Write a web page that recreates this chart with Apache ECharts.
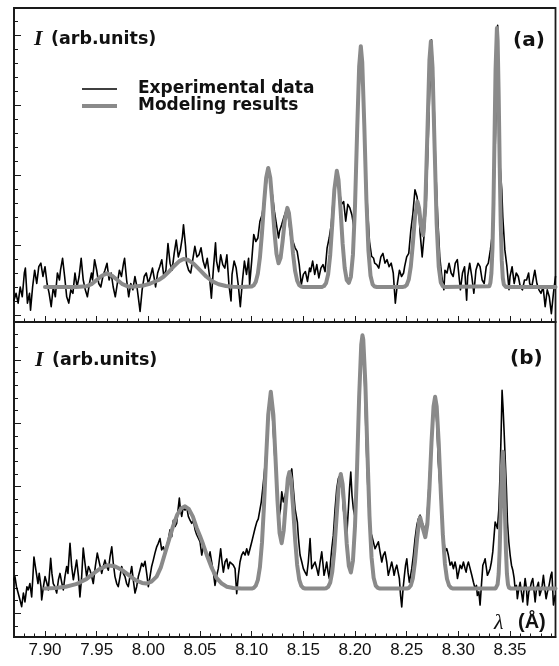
<!DOCTYPE html>
<html><head><meta charset="utf-8">
<script src="https://cdn.jsdelivr.net/npm/echarts@6/dist/echarts.min.js"></script>
<style>html,body{margin:0;padding:0;background:#fff}#c{width:559px;height:666px}</style>
</head><body><div id="c"></div>
<script>
// wavelength range (Å) and tick labels
const xMin = 7.87, xMax = 8.394;
const xTickLabels = ['7.90','7.95','8.00','8.05','8.10','8.15','8.20','8.25','8.30','8.35'];
const seriesNames = ['Experimental data', 'Modeling results'];

// panel (a): experimental data [λ, I]
const expA = [[7.870,2.1],[7.872,3.1],[7.874,1.7],[7.876,4.0],[7.878,2.6],[7.880,6.0],[7.881,6.7],[7.883,1.7],[7.885,3.1],[7.886,0.7],[7.888,4.0],[7.890,6.4],[7.892,4.5],[7.894,6.9],[7.896,7.4],[7.898,5.5],[7.900,6.9],[7.902,4.5],[7.904,3.1],[7.906,1.2],[7.908,4.0],[7.910,2.6],[7.912,6.0],[7.914,5.0],[7.915,6.4],[7.917,8.1],[7.919,5.5],[7.921,2.6],[7.923,1.7],[7.925,3.6],[7.927,3.1],[7.929,6.0],[7.931,4.0],[7.933,5.5],[7.935,8.1],[7.937,5.0],[7.939,3.6],[7.941,2.6],[7.943,4.5],[7.945,6.0],[7.946,5.0],[7.948,7.9],[7.950,6.4],[7.952,4.5],[7.954,4.0],[7.956,5.5],[7.958,6.4],[7.960,7.4],[7.962,5.0],[7.964,6.0],[7.966,4.0],[7.968,2.6],[7.970,4.5],[7.972,6.4],[7.974,5.5],[7.976,7.4],[7.977,8.1],[7.979,5.0],[7.981,2.6],[7.983,4.5],[7.985,3.6],[7.987,5.5],[7.989,4.0],[7.991,1.7],[7.992,0.5],[7.994,3.6],[7.996,5.5],[7.998,6.0],[8.000,4.5],[8.002,5.5],[8.004,6.7],[8.006,5.0],[8.007,4.0],[8.009,6.0],[8.011,6.9],[8.013,7.9],[8.015,5.5],[8.017,6.4],[8.019,10.2],[8.021,7.4],[8.023,6.4],[8.025,8.8],[8.027,10.7],[8.029,8.3],[8.031,9.3],[8.033,11.2],[8.034,12.9],[8.036,9.8],[8.037,7.4],[8.039,6.4],[8.041,6.0],[8.043,7.9],[8.045,9.8],[8.047,8.3],[8.049,8.6],[8.051,9.6],[8.053,7.7],[8.055,6.7],[8.057,8.1],[8.059,5.8],[8.061,2.4],[8.063,6.7],[8.065,10.3],[8.066,7.7],[8.068,6.2],[8.070,8.6],[8.072,7.2],[8.074,6.7],[8.076,8.6],[8.078,4.3],[8.080,2.0],[8.081,5.8],[8.083,7.7],[8.085,6.7],[8.087,4.3],[8.089,1.2],[8.091,4.8],[8.093,7.7],[8.095,5.8],[8.097,8.1],[8.098,4.3],[8.100,7.7],[8.102,11.5],[8.104,10.5],[8.106,11.0],[8.108,13.4],[8.110,14.3],[8.112,16.2],[8.114,18.6],[8.116,21.0],[8.118,19.6],[8.120,17.2],[8.122,14.8],[8.124,12.9],[8.126,11.0],[8.127,12.0],[8.129,12.9],[8.131,13.9],[8.133,14.8],[8.135,15.3],[8.136,13.4],[8.138,11.0],[8.140,10.5],[8.142,9.6],[8.144,9.1],[8.146,7.2],[8.148,4.3],[8.150,5.8],[8.152,6.2],[8.154,4.8],[8.156,6.7],[8.157,6.2],[8.159,7.7],[8.161,5.8],[8.163,7.2],[8.165,5.3],[8.167,6.7],[8.169,7.2],[8.171,6.2],[8.173,9.6],[8.175,11.0],[8.177,12.9],[8.179,16.7],[8.181,19.1],[8.182,20.5],[8.184,18.6],[8.186,16.7],[8.187,15.8],[8.189,16.2],[8.191,13.4],[8.193,15.8],[8.195,15.3],[8.197,14.3],[8.199,12.4],[8.201,21.0],[8.203,29.6],[8.206,38.4],[8.208,32.0],[8.210,22.4],[8.212,15.3],[8.214,10.5],[8.216,8.4],[8.218,8.1],[8.219,7.4],[8.221,7.2],[8.223,6.7],[8.225,8.3],[8.227,8.8],[8.229,7.4],[8.231,7.9],[8.233,6.9],[8.235,7.4],[8.237,6.0],[8.239,1.7],[8.241,4.5],[8.243,6.4],[8.245,5.5],[8.247,6.0],[8.248,6.9],[8.250,8.3],[8.252,8.8],[8.254,12.1],[8.256,14.5],[8.258,17.9],[8.260,16.9],[8.262,14.5],[8.263,11.7],[8.265,8.3],[8.267,11.7],[8.269,16.4],[8.271,26.0],[8.273,35.5],[8.274,39.3],[8.276,33.1],[8.278,21.2],[8.280,14.0],[8.282,8.3],[8.284,5.5],[8.286,3.6],[8.287,6.4],[8.289,6.0],[8.291,7.4],[8.293,6.0],[8.295,5.5],[8.297,7.4],[8.299,7.9],[8.301,5.0],[8.302,3.6],[8.304,6.0],[8.306,6.9],[8.308,2.1],[8.309,5.5],[8.311,7.4],[8.313,5.5],[8.315,3.1],[8.317,6.4],[8.319,7.4],[8.321,6.9],[8.323,5.0],[8.325,4.5],[8.327,6.9],[8.329,7.4],[8.331,9.3],[8.333,11.7],[8.334,15.5],[8.336,26.0],[8.337,35.5],[8.338,41.4],[8.339,33.1],[8.340,22.1],[8.342,17.9],[8.343,14.0],[8.345,9.3],[8.347,6.9],[8.349,3.6],[8.350,5.5],[8.352,6.9],[8.354,4.5],[8.356,6.0],[8.358,5.5],[8.360,4.0],[8.362,3.6],[8.364,5.0],[8.366,5.0],[8.368,6.0],[8.369,4.5],[8.371,4.0],[8.374,6.4],[8.376,4.5],[8.378,3.6],[8.380,3.1],[8.382,4.0],[8.384,1.2],[8.386,3.6],[8.388,2.6],[8.390,0.2],[8.392,3.1],[8.394,5.5]];

// panel (a): modeling results [λ, I]
const modA = [[7.900,4.0],[7.930,4.0],[7.940,4.1],[7.945,4.4],[7.950,5.0],[7.955,5.6],[7.960,5.95],[7.965,5.6],[7.970,5.0],[7.975,4.4],[7.980,4.1],[7.985,4.05],[7.995,4.2],[8.002,4.5],[8.010,5.0],[8.015,5.5],[8.020,6.2],[8.025,7.0],[8.030,7.7],[8.034,8.0],[8.038,7.9],[8.044,7.3],[8.050,6.4],[8.056,5.5],[8.062,4.8],[8.068,4.4],[8.075,4.15],[8.082,4.05],[8.090,4.0],[8.100,4.07],[8.102,4.24],[8.104,4.75],[8.106,5.94],[8.108,8.24],[8.110,11.78],[8.112,16.0],[8.114,19.6],[8.116,21.0],[8.118,19.6],[8.120,16.0],[8.122,11.9],[8.124,8.74],[8.126,7.4],[8.128,8.16],[8.130,10.6],[8.132,13.5],[8.1345,15.3],[8.136,14.6],[8.138,12.0],[8.140,8.8],[8.142,6.3],[8.144,4.9],[8.146,4.27],[8.148,4.06],[8.150,4.0],[8.168,4.0],[8.170,4.14],[8.172,4.56],[8.174,5.83],[8.176,8.61],[8.178,13.06],[8.180,17.9],[8.1824,20.6],[8.184,19.3],[8.186,15.07],[8.188,10.23],[8.190,6.74],[8.192,4.99],[8.194,4.58],[8.196,5.46],[8.198,8.65],[8.200,15.6],[8.202,26.0],[8.204,35.5],[8.2056,38.4],[8.207,36.1],[8.209,27.0],[8.211,16.5],[8.213,9.17],[8.215,5.61],[8.217,4.38],[8.219,4.07],[8.221,4.0],[8.246,4.01],[8.248,4.06],[8.250,4.29],[8.252,5.06],[8.254,6.95],[8.256,10.24],[8.258,13.99],[8.2604,16.2],[8.262,15.3],[8.264,12.56],[8.266,11.41],[8.268,15.6],[8.270,25.8],[8.272,36.4],[8.2734,39.1],[8.275,35.4],[8.277,24.0],[8.279,13.05],[8.281,6.89],[8.283,4.65],[8.285,4.1],[8.287,4.0],[8.330,4.1],[8.331,4.6],[8.332,6.0],[8.333,9.5],[8.334,16.0],[8.335,25.4],[8.336,35.1],[8.3373,41.0],[8.338,39.2],[8.339,31.5],[8.340,21.4],[8.341,13.0],[8.342,7.8],[8.343,5.3],[8.344,4.36],[8.345,4.08],[8.346,4.0],[8.394,4.0]];

// panel (b): experimental data [λ, I]
const expB = [[7.8700,5.3],[7.8709,5.8],[7.8724,4.2],[7.8741,4.2],[7.8758,2.1],[7.8774,1.05],[7.8791,3.2],[7.8806,1.8],[7.8825,4.2],[7.8838,3.7],[7.8854,4.7],[7.8871,2.6],[7.8883,5.8],[7.8893,8.9],[7.8912,6.8],[7.8932,4.7],[7.8944,6.3],[7.8961,4.2],[7.8968,2.1],[7.8985,4.2],[7.9000,5.8],[7.9019,4.7],[7.9032,3.7],[7.9055,8.7],[7.9067,6.3],[7.9080,4.7],[7.9096,4.2],[7.9113,3.2],[7.9130,5.3],[7.9145,6.3],[7.9164,4.7],[7.9177,3.7],[7.9193,5.8],[7.9210,7.4],[7.9222,6.3],[7.9242,11.05],[7.9258,7.4],[7.9274,5.3],[7.9290,6.8],[7.9306,8.4],[7.9324,5.8],[7.9338,2.6],[7.9355,5.8],[7.9370,10.3],[7.9387,7.9],[7.9403,5.8],[7.9421,7.4],[7.9436,6.8],[7.9452,5.8],[7.9467,4.7],[7.9487,7.4],[7.9506,9.5],[7.9527,7.9],[7.9549,6.3],[7.9564,7.4],[7.9580,8.4],[7.9597,7.4],[7.9613,6.8],[7.9629,8.9],[7.9646,10.5],[7.9661,7.9],[7.9677,5.8],[7.9694,4.7],[7.9709,4.2],[7.9726,5.8],[7.9742,7.4],[7.9758,6.3],[7.9774,5.8],[7.9790,4.7],[7.9806,4.2],[7.9822,5.8],[7.9839,7.4],[7.9854,5.3],[7.9871,3.2],[7.9887,4.2],[7.9903,5.8],[7.9919,6.8],[7.9936,7.9],[7.9951,7.4],[7.9968,8.2],[7.9984,6.3],[8.0000,4.2],[8.0016,5.8],[8.0032,7.4],[8.0048,8.4],[8.0064,9.5],[8.0081,10.5],[8.0096,11.05],[8.0113,11.8],[8.0129,10.0],[8.0145,10.5],[8.0161,9.7],[8.0177,9.5],[8.0193,11.6],[8.0210,13.2],[8.0226,12.1],[8.0242,14.7],[8.0258,13.7],[8.0274,14.2],[8.0287,16.3],[8.0300,18.2],[8.0311,16.3],[8.0323,15.3],[8.0338,16.8],[8.0355,16.3],[8.0371,16.8],[8.0387,15.3],[8.0403,14.7],[8.0420,14.2],[8.0435,14.7],[8.0452,13.2],[8.0468,12.4],[8.0484,12.3],[8.0500,11.3],[8.0517,9.2],[8.0532,10.7],[8.0548,10.2],[8.0565,9.2],[8.0580,8.6],[8.0597,9.7],[8.0613,8.1],[8.0629,6.5],[8.0645,4.4],[8.0662,6.0],[8.0677,7.05],[8.0700,10.2],[8.0713,8.1],[8.0726,6.5],[8.0742,8.1],[8.0759,8.6],[8.0774,7.05],[8.0790,8.1],[8.0807,8.1],[8.0822,7.6],[8.0839,7.05],[8.0855,3.1],[8.0871,6.0],[8.0887,8.1],[8.0903,9.2],[8.0919,9.7],[8.0936,9.2],[8.0952,10.2],[8.0968,9.2],[8.0984,10.2],[8.1001,11.3],[8.1016,12.3],[8.1032,13.4],[8.1049,14.4],[8.1064,14.9],[8.1081,16.5],[8.1093,17.6],[8.1107,19.7],[8.1120,21.8],[8.1132,23.9],[8.1146,27.1],[8.1158,30.2],[8.1171,32.3],[8.1185,33.4],[8.1197,32.3],[8.1210,28.6],[8.1223,24.9],[8.1243,20.7],[8.1255,17.6],[8.1268,15.5],[8.1279,16.5],[8.1291,19.2],[8.1306,17.6],[8.1323,18.6],[8.1339,19.7],[8.1355,21.3],[8.1371,21.8],[8.1388,22.8],[8.1403,19.7],[8.1420,16.5],[8.1442,14.4],[8.1453,11.8],[8.1468,9.2],[8.1485,8.1],[8.1500,7.05],[8.1516,6.5],[8.1533,6.0],[8.1548,8.1],[8.1565,11.8],[8.1581,7.05],[8.1597,7.6],[8.1613,8.1],[8.1630,7.05],[8.1645,6.0],[8.1662,8.1],[8.1678,9.7],[8.1691,7.6],[8.1700,6.0],[8.1715,7.05],[8.1726,8.1],[8.1739,6.5],[8.1751,5.5],[8.1763,8.1],[8.1775,10.2],[8.1790,12.3],[8.1807,16.5],[8.1823,19.7],[8.1839,21.3],[8.1856,21.8],[8.1872,20.7],[8.1887,16.5],[8.1904,14.4],[8.1920,12.3],[8.1936,16.5],[8.1947,19.7],[8.1959,22.3],[8.1971,18.6],[8.1984,16.5],[8.1996,15.5],[8.2010,19.7],[8.2025,26.0],[8.2040,32.8],[8.2054,39.7],[8.2068,43.4],[8.2081,41.8],[8.2095,35.5],[8.2107,27.6],[8.2122,20.7],[8.2136,15.5],[8.2151,12.8],[8.2162,12.3],[8.2178,12.3],[8.2194,10.2],[8.2211,10.2],[8.2226,11.3],[8.2242,9.7],[8.2259,8.1],[8.2274,9.2],[8.2290,9.7],[8.2307,8.1],[8.2322,6.0],[8.2339,7.05],[8.2355,8.1],[8.2368,7.05],[8.2378,6.0],[8.2392,7.05],[8.2404,7.6],[8.2417,6.5],[8.2429,5.5],[8.2441,2.8],[8.2452,1.0],[8.2465,3.9],[8.2478,6.0],[8.2489,7.6],[8.2501,8.6],[8.2513,6.5],[8.2526,4.9],[8.2538,6.0],[8.2549,7.05],[8.2565,9.2],[8.2581,11.8],[8.2598,13.9],[8.2613,14.9],[8.2630,15.5],[8.2646,14.4],[8.2661,13.9],[8.2678,12.8],[8.2695,14.4],[8.2710,18.6],[8.2726,23.4],[8.2743,27.6],[8.2758,31.8],[8.2774,33.9],[8.2791,30.2],[8.2806,23.9],[8.2823,19.7],[8.2839,15.5],[8.2855,12.3],[8.2871,9.7],[8.2888,10.2],[8.2903,9.2],[8.2920,7.6],[8.2936,8.1],[8.2952,7.05],[8.2968,8.1],[8.2981,7.05],[8.2991,5.5],[8.3004,6.5],[8.3017,7.6],[8.3033,7.05],[8.3049,8.1],[8.3065,7.05],[8.3075,6.5],[8.3087,7.6],[8.3097,8.1],[8.3114,7.05],[8.3130,6.0],[8.3146,4.9],[8.3162,3.9],[8.3175,4.4],[8.3184,2.8],[8.3198,3.4],[8.3210,1.3],[8.3223,4.4],[8.3237,7.6],[8.3249,8.1],[8.3259,8.6],[8.3272,7.05],[8.3281,6.0],[8.3295,6.5],[8.3307,7.05],[8.3320,8.1],[8.3333,9.7],[8.3346,12.3],[8.3356,14.4],[8.3368,13.9],[8.3378,13.4],[8.3392,16.5],[8.3404,22.3],[8.3414,28.6],[8.3423,35.2],[8.3433,32.3],[8.3443,28.6],[8.3452,24.9],[8.3465,19.7],[8.3475,14.4],[8.3488,11.3],[8.3501,9.2],[8.3514,7.6],[8.3527,6.8],[8.3540,5.5],[8.3549,3.9],[8.3562,4.4],[8.3571,2.3],[8.3585,3.9],[8.3598,4.9],[8.3610,3.4],[8.3624,1.8],[8.3636,3.9],[8.3646,5.5],[8.3659,3.9],[8.3668,1.3],[8.3682,3.4],[8.3694,3.9],[8.3707,4.9],[8.3720,5.5],[8.3733,3.4],[8.3743,1.8],[8.3756,3.9],[8.3775,4.9],[8.3787,2.8],[8.3798,3.4],[8.3811,4.4],[8.3823,6.0],[8.3837,3.9],[8.3849,2.3],[8.3862,3.4],[8.3872,3.9],[8.3883,4.9],[8.3895,6.0],[8.3905,6.5],[8.3920,1.3],[8.3936,2.8]];

// panel (b): modeling results [λ, I]
const modB = [[7.900,3.9],[7.910,4.0],[7.920,4.2],[7.930,4.6],[7.940,5.4],[7.947,6.3],[7.953,7.0],[7.961,7.6],[7.968,7.4],[7.975,6.8],[7.982,5.9],[7.988,5.2],[7.994,4.8],[7.998,4.7],[8.003,5.0],[8.008,5.8],[8.012,7.2],[8.016,9.4],[8.020,11.6],[8.024,13.8],[8.028,15.6],[8.032,16.6],[8.0355,16.9],[8.039,16.5],[8.043,15.3],[8.047,13.4],[8.050,12.2],[8.053,10.9],[8.057,9.0],[8.061,7.3],[8.066,5.6],[8.071,4.7],[8.076,4.2],[8.082,4.0],[8.090,3.9],[8.100,3.9],[8.102,4.03],[8.104,4.36],[8.106,5.27],[8.108,7.33],[8.110,11.23],[8.112,17.26],[8.114,24.6],[8.116,31.3],[8.1185,35.0],[8.121,31.3],[8.123,24.7],[8.125,17.7],[8.127,12.66],[8.129,11.07],[8.131,13.08],[8.133,17.4],[8.135,21.3],[8.1365,22.3],[8.138,21.2],[8.140,16.9],[8.142,11.7],[8.144,7.64],[8.146,5.33],[8.148,4.33],[8.150,4.0],[8.152,3.9],[8.170,3.9],[8.172,3.96],[8.174,4.17],[8.176,4.85],[8.178,6.59],[8.180,9.99],[8.182,14.88],[8.184,19.68],[8.1862,22.0],[8.188,20.4],[8.190,15.93],[8.192,10.95],[8.194,7.49],[8.196,6.44],[8.198,8.3],[8.200,13.82],[8.202,23.15],[8.204,34.2],[8.206,42.4],[8.2072,43.9],[8.208,43.2],[8.210,36.3],[8.212,25.35],[8.214,15.36],[8.216,8.83],[8.218,5.61],[8.220,4.38],[8.222,4.01],[8.224,3.9],[8.250,3.9],[8.252,4.0],[8.254,4.38],[8.256,5.56],[8.258,8.1],[8.260,11.7],[8.262,14.6],[8.263,15.16],[8.264,14.97],[8.266,13.2],[8.268,12.02],[8.270,14.04],[8.272,19.65],[8.274,26.96],[8.276,32.7],[8.2775,34.2],[8.279,32.7],[8.281,26.86],[8.283,19.17],[8.285,12.38],[8.287,7.83],[8.289,5.42],[8.291,4.39],[8.293,4.03],[8.295,3.9],[8.336,3.92],[8.337,4.05],[8.338,4.58],[8.339,6.25],[8.340,10.11],[8.341,16.31],[8.342,22.7],[8.343,25.5],[8.344,22.7],[8.345,16.31],[8.346,10.11],[8.347,6.25],[8.348,4.58],[8.349,4.05],[8.350,3.92],[8.351,3.9],[8.394,3.9]];

// intensity axis ranges (arb. units)
const yRangeA = [-1, 43.857];
const yRangeB = [-3.742, 46.0];

const FRAME = '#1a1a1a';
const TXT = '#111';
const GRAY = '#8a8a8a';

function xAxisCfg(gridIndex, showLabels) {
  return {
    gridIndex, type: 'value', min: xMin, max: xMax, splitNumber: 10,
    axisLine: { show: true, onZero: false, lineStyle: { color: FRAME, width: 1.8 } },
    axisTick: { show: true, inside: true, length: 6, lineStyle: { color: FRAME, width: 1 } },
    minorTick: { show: true, splitNumber: 5, length: 3.5, lineStyle: { color: FRAME, width: 1 } },
    splitLine: { show: false }, minorSplitLine: { show: false },
    axisLabel: {
      show: showLabels, margin: 5, color: TXT, fontSize: 17, fontFamily: 'Liberation Sans',
      showMinLabel: false, showMaxLabel: false,
      formatter: v => { const s = v.toFixed(2); return xTickLabels.includes(s) ? s : ''; }
    }
  };
}
function yAxisCfg(gridIndex, range) {
  return {
    gridIndex, type: 'value', min: range[0], max: range[1], splitNumber: 5,
    axisLine: { show: true, onZero: false, lineStyle: { color: FRAME, width: 1.8 } },
    axisTick: { show: true, inside: true, length: 7, lineStyle: { color: FRAME, width: 1 } },
    minorTick: { show: true, splitNumber: 5, length: 4, lineStyle: { color: FRAME, width: 1 } },
    splitLine: { show: false }, minorSplitLine: { show: false },
    axisLabel: { show: false }
  };
}
function lineSeries(name, data, idx, color, width, z) {
  return {
    name, type: 'line', data, xAxisIndex: idx, yAxisIndex: idx,
    showSymbol: false, symbol: 'none', smooth: false, z,
    lineStyle: { color, width, join: 'round', cap: 'round' },
    emphasis: { disabled: true }, animation: false, clip: true
  };
}

const chart = echarts.init(document.getElementById('c'), null, { renderer: 'canvas' });
const boldSans = '"DejaVu Sans"';
chart.setOption({
  backgroundColor: '#fff',
  animation: false,
  grid: [
    { left: 14, top: 8, width: 541.5, height: 314, show: true, borderColor: FRAME, borderWidth: 1.8, backgroundColor: 'transparent' },
    { left: 14, top: 322, width: 541.5, height: 315, show: true, borderColor: FRAME, borderWidth: 1.8, backgroundColor: 'transparent' }
  ],
  xAxis: [xAxisCfg(0, false), xAxisCfg(1, true)],
  yAxis: [yAxisCfg(0, yRangeA), yAxisCfg(1, yRangeB)],
  series: [
    lineSeries(seriesNames[0], expA, 0, '#000', 1.6, 2),
    lineSeries(seriesNames[1], modA, 0, GRAY, 4, 3),
    lineSeries(seriesNames[0], expB, 1, '#000', 1.6, 2),
    lineSeries(seriesNames[1], modB, 1, GRAY, 4, 3)
  ],
  graphic: [
    { type: 'text', x: 34, y: 39.5, style: { text: 'I', font: 'italic bold 22px "Liberation Serif"', fill: TXT, align: 'left', verticalAlign: 'middle' } },
    { type: 'text', x: 51, y: 39.5, style: { text: '(arb.units)', font: 'bold 17.5px ' + boldSans, fill: TXT, align: 'left', verticalAlign: 'middle' } },
    { type: 'text', x: 35, y: 360.5, style: { text: 'I', font: 'italic bold 22px "Liberation Serif"', fill: TXT, align: 'left', verticalAlign: 'middle' } },
    { type: 'text', x: 52, y: 360.5, style: { text: '(arb.units)', font: 'bold 17.5px ' + boldSans, fill: TXT, align: 'left', verticalAlign: 'middle' } },
    { type: 'line', shape: { x1: 82, y1: 89, x2: 117, y2: 89 }, style: { stroke: '#000', lineWidth: 1.6 } },
    { type: 'line', shape: { x1: 82, y1: 106, x2: 117, y2: 106 }, style: { stroke: GRAY, lineWidth: 4 } },
    { type: 'text', x: 138, y: 89, style: { text: seriesNames[0], font: 'bold 17px ' + boldSans, fill: TXT, align: 'left', verticalAlign: 'middle' } },
    { type: 'text', x: 138, y: 106, style: { text: seriesNames[1], font: 'bold 17px ' + boldSans, fill: TXT, align: 'left', verticalAlign: 'middle' } },
    { type: 'text', x: 513, y: 41, style: { text: '(a)', font: 'bold 20px ' + boldSans, fill: TXT, align: 'left', verticalAlign: 'middle' } },
    { type: 'text', x: 510, y: 358.7, style: { text: '(b)', font: 'bold 20px ' + boldSans, fill: TXT, align: 'left', verticalAlign: 'middle' } },
    { type: 'text', x: 494, y: 623, style: { text: 'λ', font: 'italic 22px "Liberation Serif"', fill: TXT, align: 'left', verticalAlign: 'middle' } },
    { type: 'text', x: 518, y: 622, style: { text: '(Å)', font: 'bold 20px "Liberation Sans"', fill: TXT, align: 'left', verticalAlign: 'middle' } }
  ]
});
</script>
</body></html>
